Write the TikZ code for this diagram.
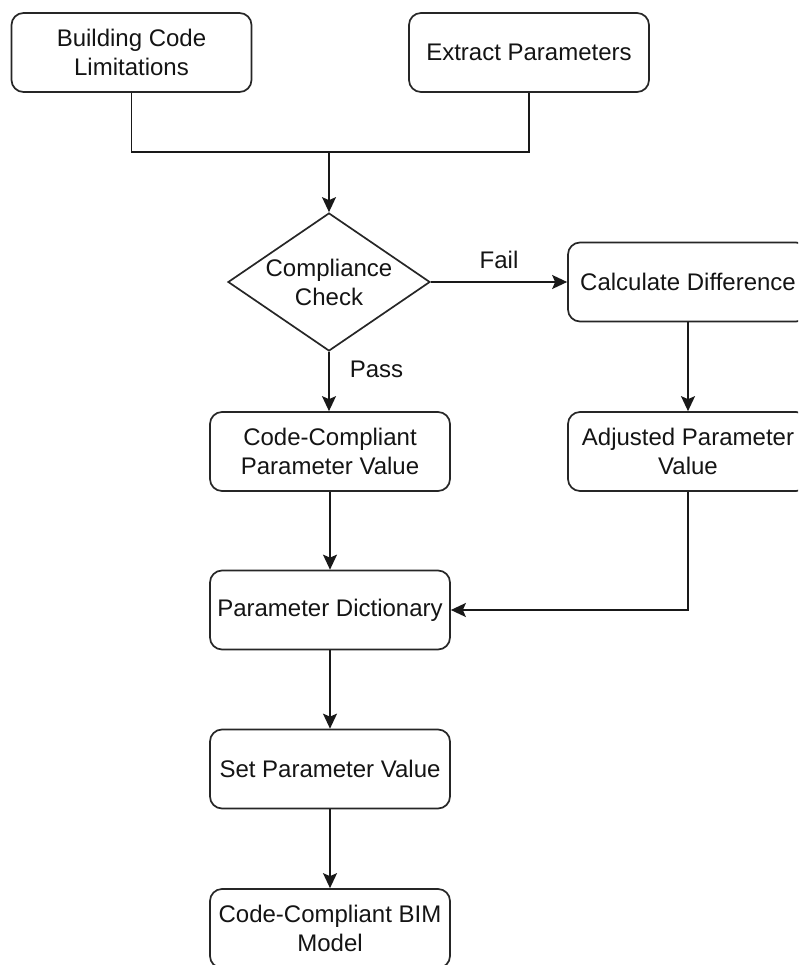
\documentclass[tikz,border=0pt]{standalone}
\usepackage{fontspec}
\setmainfont{Liberation Sans}
\usetikzlibrary{shapes.geometric,arrows.meta}
\begin{document}
\begin{tikzpicture}[x=1pt,y=-1pt,
  font=\fontsize{24}{29}\selectfont,
  line width=1.7pt,
  wire/.style={draw=black!90},
  stepbox/.style={draw=black!85, rounded corners=12pt, minimum width=240pt, minimum height=79pt,
    inner sep=4pt, align=center, text=black!92},
  decision/.style={draw=black!85, diamond, minimum width=202pt, minimum height=138pt, inner sep=0pt},
  flow/.style={wire, -{Stealth[length=15pt,width=14pt,inset=3pt]}},
  tag/.style={text=black!92, inner sep=0pt}
]
\useasboundingbox (0,0) rectangle (798,965);
\clip (0,0) rectangle (798,965);

% process steps
\node[stepbox] (bcl)   at (131.5,52.5) {Building Code\\Limitations};
\node[stepbox] (ext)   at (529,52.5)   {Extract Parameters};
\node[decision, label={[align=center,text=black!92]center:Compliance\\Check}] (chk) at (329,282) {};
\node[stepbox] (calc)  at (688,282)    {Calculate Difference};
\node[stepbox] (ccpv)  at (330,451.5)  {Code-Compliant\\Parameter Value};
\node[stepbox] (adj)   at (688,451.5)  {Adjusted Parameter\\Value};
\node[stepbox] (pdict) at (330,610)    {Parameter Dictionary};
\node[stepbox] (setp)  at (330,769)    {Set Parameter Value};
\node[stepbox] (bim)   at (330,928.5)  {Code-Compliant BIM\\Model};

% merge point of the two inputs
\coordinate (m) at (329,152);

\draw[wire] (bcl.south) |- (m);
\draw[wire] (ext.south) |- (m);
\draw[flow] (m) -- (chk.north);

\draw[flow] (chk.east) -- node[tag, above=12pt] (fail) {Fail} (calc.west);
\draw[flow] (chk.south) -- node[tag, right=20pt, pos=0.3] (pass) {Pass} (chk.south |- ccpv.north);
\draw[flow] (calc.south) -- (adj.north);
\draw[flow] (ccpv.south) -- (pdict.north);
\draw[flow] (adj.south) |- (pdict.east);
\draw[flow] (pdict.south) -- (setp.north);
\draw[flow] (setp.south) -- (bim.north);
\end{tikzpicture}
\end{document}
